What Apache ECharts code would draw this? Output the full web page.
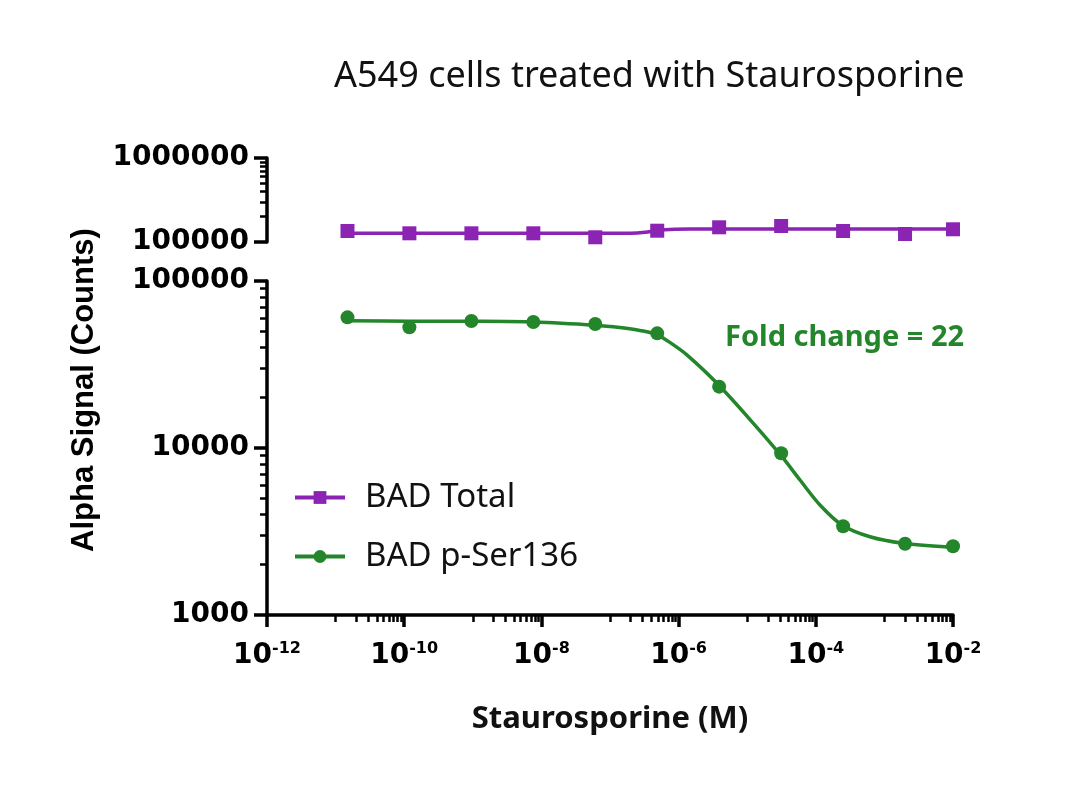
<!DOCTYPE html>
<html><head><meta charset="utf-8">
<script src="https://cdn.jsdelivr.net/npm/echarts@6/dist/echarts.min.js"></script>
<style>html,body{margin:0;padding:0;background:#fff}#c{width:1080px;height:795px}</style>
</head><body><div id="c"></div>
<script>
// ---- data ----
const concentrations = [1.49e-11, 1.19e-10, 9.54e-10, 7.63e-9, 6.1e-8, 4.88e-7, 3.9e-6, 3.125e-5, 2.5e-4, 2e-3, 1e-2];
const badTotal = [135200, 126900, 126900, 126900, 113800, 136300, 149600, 155000, 135200, 124500, 141700];
const badPSer136 = [60600, 52900, 57600, 56800, 55300, 48600, 23300, 9300, 3400, 2670, 2580];
// fitted curves as drawn in the reference
const totalFitX = [1.49e-11, 7.1e-8, 1.96e-7, 3.24e-7, 5.36e-7, 1.47e-6, 1e-2];
const totalFitY = [126900, 126900, 127500, 131000, 139000, 142900, 142900];
const pserFitX = [1.52e-11, 1.22e-10, 9.8e-10, 7.8e-9, 6.25e-8, 1.4e-7, 2.73e-7, 4.84e-7, 8.02e-7, 1.32e-6, 3.63e-6, 1.22e-5, 3.21e-5, 5.89e-5, 1.15e-4, 2.41e-4, 6.17e-4, 1.87e-3, 1e-2];
const pserFitY = [57800, 57500, 57400, 56800, 54300, 52600, 50600, 47800, 42000, 36100, 24400, 14100, 8870, 6430, 4560, 3460, 2940, 2690, 2540];
const xTickLabels = [1e-12, 1e-10, 1e-8, 1e-6, 1e-4, 1e-2];
const yTopTickLabels = [1e5, 1e6];
const yBottomTickLabels = [1e3, 1e4, 1e5];
const seriesNames = ['BAD Total', 'BAD p-Ser136'];
const titleText = 'A549 cells treated with Staurosporine';
const annotationText = 'Fold change = 22';

// ---- minor tick positions (axis decoration) ----
function logMinor(fromExp, toExp) {
  const out = [];
  for (let e = fromExp; e < toExp; e++) {
    for (let d = 2; d <= 9; d++) out.push(d * Math.pow(10, e));
  }
  return out;
}
const xMinor = [];
for (let e = -11; e <= -3; e += 2) {
  for (let d = 1; d <= 9; d++) xMinor.push(d * Math.pow(10, e));
}
const yTopMinor = logMinor(5, 6);
const yBottomMinor = logMinor(3, 5);

const PURPLE = '#8B23B3';
const GREEN = '#23862A';
const AXW = 3.5;
const tickFont = 'DejaVu Sans';

const zip = (xs, ys) => xs.map((x, i) => [x, ys[i]]);
const expFmt = v => '10{sup|' + Math.round(Math.log10(v)) + '}';
const intFmt = v => String(Math.round(v));

const chart = echarts.init(document.getElementById('c'));
chart.setOption({
  animation: false,
  backgroundColor: '#fff',
  title: {
    text: titleText, left: 329, top: 54,
    textStyle: { fontFamily: 'Noto Sans', fontSize: 36, fontWeight: 'normal', color: '#111' }
  },
  grid: [
    { left: 267, top: 158, width: 686, height: 84 },
    { left: 267, top: 281, width: 686, height: 334 }
  ],
  xAxis: [
    { type: 'log', logBase: 10, min: 1e-12, max: 1e-2, gridIndex: 0, show: false },
    { type: 'log', logBase: 10, min: 1e-12, max: 1e-2, gridIndex: 1, position: 'bottom', offset: 0,
      name: 'Staurosporine (M)', nameLocation: 'middle', nameGap: 89,
      nameTextStyle: { fontFamily: 'Noto Sans', fontWeight: 'bold', fontSize: 31, color: '#111' },
      axisLine: { show: true, lineStyle: { color: '#000', width: AXW } },
      axisTick: { show: true, length: 12, lineStyle: { color: '#000', width: AXW }, customValues: xTickLabels },
      axisLabel: { show: true, margin: 26, customValues: xTickLabels, formatter: expFmt,
        fontFamily: tickFont, fontWeight: 'bold', fontSize: 28, color: '#000',
        rich: { sup: { fontFamily: tickFont, fontWeight: 'bold', fontSize: 16, verticalAlign: 'top', padding: [0, 0, 14, 0], color: '#000' } } },
      splitLine: { show: false }, minorTick: { show: false } },
    { type: 'log', logBase: 10, min: 1e-12, max: 1e-2, gridIndex: 1, position: 'bottom', offset: 0,
      axisLine: { show: false },
      axisTick: { show: true, length: 7, lineStyle: { color: '#000', width: 2.5 }, customValues: xMinor },
      axisLabel: { show: false }, splitLine: { show: false } }
  ],
  yAxis: [
    { type: 'log', logBase: 10, min: 1e5, max: 1e6, gridIndex: 0, position: 'left', offset: 0,
      axisLine: { show: true, lineStyle: { color: '#000', width: AXW } },
      axisTick: { show: true, length: 13, lineStyle: { color: '#000', width: AXW }, customValues: yTopTickLabels },
      axisLabel: { show: true, margin: 18, customValues: yTopTickLabels, formatter: intFmt,
        fontFamily: tickFont, fontWeight: 'bold', fontSize: 28, color: '#000' },
      splitLine: { show: false } },
    { type: 'log', logBase: 10, min: 1e5, max: 1e6, gridIndex: 0, position: 'left', offset: 0,
      axisLine: { show: false },
      axisTick: { show: true, length: 7, lineStyle: { color: '#000', width: 2.5 }, customValues: yTopMinor },
      axisLabel: { show: false }, splitLine: { show: false } },
    { type: 'log', logBase: 10, min: 1e3, max: 1e5, gridIndex: 1, position: 'left', offset: 0,
      axisLine: { show: true, lineStyle: { color: '#000', width: AXW } },
      axisTick: { show: true, length: 13, lineStyle: { color: '#000', width: AXW }, customValues: yBottomTickLabels },
      axisLabel: { show: true, margin: 18, customValues: yBottomTickLabels, formatter: intFmt,
        fontFamily: tickFont, fontWeight: 'bold', fontSize: 28, color: '#000' },
      splitLine: { show: false } },
    { type: 'log', logBase: 10, min: 1e3, max: 1e5, gridIndex: 1, position: 'left', offset: 0,
      axisLine: { show: false },
      axisTick: { show: true, length: 7, lineStyle: { color: '#000', width: 2.5 }, customValues: yBottomMinor },
      axisLabel: { show: false }, splitLine: { show: false } }
  ],
  legend: {
    left: 288, top: 476, orient: 'vertical', itemWidth: 50, itemHeight: 16, itemGap: 26,
    data: seriesNames,
    lineStyle: { width: 4 },
    textStyle: { fontFamily: 'Noto Sans', fontSize: 33, color: '#111', padding: [0, 0, 0, 15] }
  },
  graphic: [
    { type: 'text', x: 84, y: 390, rotation: Math.PI / 2,
      style: { text: 'Alpha Signal (Counts)', fontFamily: 'Liberation Sans', fontWeight: 'bold', fontSize: 31,
        fill: '#000', align: 'center', verticalAlign: 'middle' } },
    { type: 'text', x: 725, y: 338,
      style: { text: annotationText, fontFamily: 'Noto Sans', fontWeight: 'bold', fontSize: 29,
        fill: GREEN, align: 'left', verticalAlign: 'middle' } }
  ],
  series: [
    { name: seriesNames[0], type: 'line', xAxisIndex: 0, yAxisIndex: 0,
      data: zip(totalFitX, totalFitY), smooth: 0.3, symbol: 'rect', symbolSize: 13, showSymbol: false,
      lineStyle: { color: PURPLE, width: 3.5 }, itemStyle: { color: PURPLE }, z: 2 },
    { name: seriesNames[0], type: 'scatter', xAxisIndex: 0, yAxisIndex: 0,
      data: zip(concentrations, badTotal), symbol: 'rect', symbolSize: 14,
      itemStyle: { color: PURPLE, opacity: 1 }, z: 3 },
    { name: seriesNames[1], type: 'line', xAxisIndex: 1, yAxisIndex: 2,
      data: zip(pserFitX, pserFitY), smooth: 0.3, symbol: 'circle', symbolSize: 13, showSymbol: false,
      lineStyle: { color: GREEN, width: 3.5 }, itemStyle: { color: GREEN }, z: 2 },
    { name: seriesNames[1], type: 'scatter', xAxisIndex: 1, yAxisIndex: 2,
      data: zip(concentrations, badPSer136), symbol: 'circle', symbolSize: 14,
      itemStyle: { color: GREEN, opacity: 1 }, z: 3 }
  ]
});
</script>
</body></html>
